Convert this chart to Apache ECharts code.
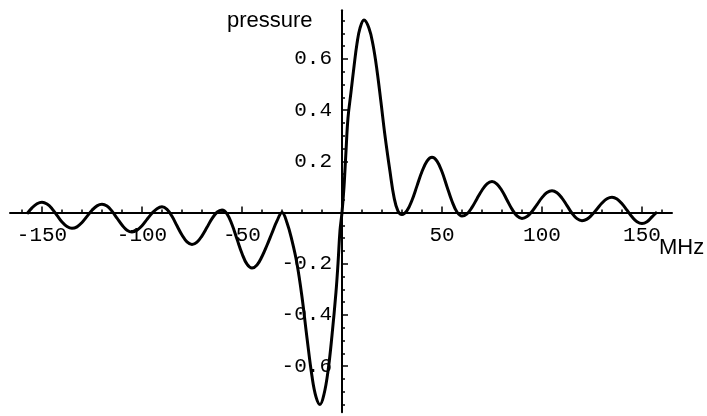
<!DOCTYPE html>
<html>
<head>
<meta charset="utf-8">
<script src="https://cdn.jsdelivr.net/npm/echarts@6/dist/echarts.min.js"></script>
<style>
html,body{margin:0;padding:0;background:#fff;}
#chart{width:707px;height:416px;}
</style>
</head>
<body>
<div id="chart"></div>
<script>
// Frequency offset (MHz) and pressure values
const freqMHz = [
  -157.5, -155, -152.5, -150, -147.5, -145, -142.5, -140, -137.5, -135,
  -132.5, -130, -127.5, -125, -122.5, -120, -117.5, -115, -112.5, -110,
  -107.5, -105, -102.5, -100, -97.5, -95, -92.5, -90, -87.5, -85,
  -82.5, -80, -77.5, -75, -72.5, -70, -67.5, -65, -62.5, -60,
  -57.5, -55, -52.5, -50, -47.5, -45, -42.5, -40, -37.5, -35,
  -32.5, -30, -27.5, -25, -22.5, -20, -17.5, -15, -13, -11,
  -9, -7, -5, -3, -2, -1, 0, 1, 2, 3,
  4.5, 6, 7.5, 9, 11, 13.5, 15.5, 17.5, 19.5, 21.5,
  24, 26, 28, 30, 32.5, 35, 37.5, 40, 42.5, 45,
  47.5, 50, 52.5, 55, 57.5, 60, 62.5, 65, 67.5, 70,
  72.5, 75, 77.5, 80, 82.5, 85, 87.5, 90, 92.5, 95,
  97.5, 100, 102.5, 105, 107.5, 110, 112.5, 115, 117.5, 120,
  122.5, 125, 127.5, 130, 132.5, 135, 137.5, 140, 142.5, 145,
  147.5, 150, 152.5, 155, 157.5];
const pressure = [
  -0.005, 0.018, 0.034, 0.040, 0.033, 0.015, -0.011, -0.037, -0.055, -0.062,
  -0.056, -0.039, -0.015, 0.009, 0.026, 0.032, 0.025, 0.005, -0.022, -0.049,
  -0.069, -0.076, -0.069, -0.052, -0.027, -0.003, 0.015, 0.022, 0.012, -0.015,
  -0.052, -0.088, -0.115, -0.125, -0.116, -0.091, -0.058, -0.024, 0.001, 0.010,
  -0.005, -0.047, -0.104, -0.160, -0.202, -0.217, -0.205, -0.172, -0.128, -0.080,
  -0.033, 0.000, -0.040, -0.110, -0.200, -0.330, -0.490, -0.640, -0.720, -0.750,
  -0.710, -0.620, -0.480, -0.310, -0.200, -0.070, 0.000, 0.100, 0.240, 0.370,
  0.470, 0.570, 0.660, 0.720, 0.752, 0.720, 0.655, 0.555, 0.430, 0.300,
  0.160, 0.060, 0.005, -0.008, 0.007, 0.048, 0.104, 0.160, 0.201, 0.216,
  0.201, 0.159, 0.101, 0.044, 0.002, -0.014, -0.005, 0.020, 0.054, 0.087,
  0.112, 0.121, 0.111, 0.085, 0.049, 0.013, -0.013, -0.023, -0.016, 0.004,
  0.031, 0.058, 0.078, 0.085, 0.077, 0.056, 0.027, -0.003, -0.024, -0.032,
  -0.026, -0.009, 0.014, 0.037, 0.054, 0.060, 0.053, 0.034, 0.009, -0.017,
  -0.036, -0.043, -0.036, -0.017, 0.002];

// Tick labels (major ticks) and minor tick spacing
const xTickLabels = [-150, -100, -50, 50, 100, 150];
const yTickLabels = [-0.6, -0.4, -0.2, 0.2, 0.4, 0.6];
const xMinorStep = 10;
const yMinorStep = 0.05;

const xLabel = 'MHz';
const yLabel = 'pressure';

// Layout: one shared scale for all overlaid grids so ticks/labels line up with the curve's axes
const W = 707, H = 416;
const ORIGIN_X = 342, ORIGIN_Y = 212.5;
const PX_PER_MHZ = 2.0, PX_PER_UNIT = 256;

function gridFor(xMin, xMax, yMin, yMax) {
  return {
    left: ORIGIN_X + xMin * PX_PER_MHZ,
    right: W - (ORIGIN_X + xMax * PX_PER_MHZ),
    top: ORIGIN_Y - yMax * PX_PER_UNIT,
    bottom: H - (ORIGIN_Y - yMin * PX_PER_UNIT),
    containLabel: false,
    outerBoundsMode: 'none'
  };
}

const monoFont = '"Liberation Mono", "DejaVu Sans Mono", monospace';
const sansFont = '"Liberation Sans", Arial, sans-serif';

const xMajMin = xTickLabels[0], xMajMax = xTickLabels[xTickLabels.length - 1];
const yMajMin = yTickLabels[0], yMajMax = yTickLabels[yTickLabels.length - 1];
const xMajStep = xTickLabels[1] - xTickLabels[0];
const yMajStep = Math.round((yTickLabels[1] - yTickLabels[0]) * 1000) / 1000;

const chart = echarts.init(document.getElementById('chart'), null, {renderer: 'canvas'});

const tickStyle = {color: '#000', width: 1.5};
const hiddenAxis = (gridIndex, min, max) => ({
  gridIndex, type: 'value', min, max, show: false,
  axisLine: {show: false, onZero: false}, axisTick: {show: false},
  axisLabel: {show: false}, splitLine: {show: false}
});

const option = {
  animation: false,
  backgroundColor: '#ffffff',
  grid: [
    gridFor(-166, 165, -0.78, 0.79),          // 0: axis lines + curve
    gridFor(xMajMin, xMajMax, 0, yMajMax),    // 1: x major ticks + labels (bottom edge = x axis)
    gridFor(0, xMajMax, yMajMin, yMajMax),    // 2: y major ticks + labels (left edge = y axis)
    gridFor(-160, 160, -0.75, 0.75)           // 3: minor ticks
  ],
  xAxis: [
    {
      gridIndex: 0, type: 'value', min: -166, max: 165,
      axisLine: {show: true, onZero: true, lineStyle: {color: '#000', width: 2}},
      axisTick: {show: false}, axisLabel: {show: false}, splitLine: {show: false}
    },
    {
      gridIndex: 1, type: 'value', min: xMajMin, max: xMajMax, interval: xMajStep, position: 'bottom',
      axisLine: {show: false, onZero: false},
      axisTick: {show: true, inside: true, length: 6, lineStyle: tickStyle},
      axisLabel: {
        show: true, margin: 12, color: '#000', fontFamily: monoFont, fontSize: 21,
        formatter: v => (xTickLabels.indexOf(v) >= 0 ? String(v) : '')
      },
      splitLine: {show: false}
    },
    hiddenAxis(2, 0, xMajMax),
    {
      gridIndex: 3, type: 'value', min: -160, max: 160, interval: xMinorStep,
      axisLine: {show: false, onZero: true},
      axisTick: {show: true, inside: true, length: 3, lineStyle: tickStyle},
      axisLabel: {show: false}, splitLine: {show: false}
    }
  ],
  yAxis: [
    {
      gridIndex: 0, type: 'value', min: -0.78, max: 0.79,
      axisLine: {show: true, onZero: true, lineStyle: {color: '#000', width: 2}},
      axisTick: {show: false}, axisLabel: {show: false}, splitLine: {show: false}
    },
    hiddenAxis(1, 0, yMajMax),
    {
      gridIndex: 2, type: 'value', min: yMajMin, max: yMajMax, interval: yMajStep, position: 'left',
      axisLine: {show: false, onZero: false},
      axisTick: {show: true, inside: true, length: 6, lineStyle: tickStyle},
      axisLabel: {
        show: true, margin: 10, color: '#000', fontFamily: monoFont, fontSize: 21,
        formatter: v => {
          const r = Math.round(v * 100) / 100;
          return yTickLabels.indexOf(r) >= 0 ? String(r) : '';
        }
      },
      splitLine: {show: false}
    },
    {
      gridIndex: 3, type: 'value', min: -0.75, max: 0.75, interval: yMinorStep,
      axisLine: {show: false, onZero: true},
      axisTick: {show: true, inside: true, length: 3, lineStyle: tickStyle},
      axisLabel: {show: false}, splitLine: {show: false}
    }
  ],
  graphic: [
    {type: 'text', left: 227, top: 10, style: {text: yLabel, fill: '#000', font: '22px ' + sansFont}},
    {type: 'text', left: 659, top: 237, style: {text: xLabel, fill: '#000', font: '22px ' + sansFont}}
  ],
  series: [{
    type: 'line',
    xAxisIndex: 0, yAxisIndex: 0,
    data: freqMHz.map((f, i) => [f, pressure[i]]),
    smooth: 0.4,
    showSymbol: false,
    lineStyle: {color: '#000', width: 3},
    z: 5
  }]
};
chart.setOption(option);
</script>
</body>
</html>
